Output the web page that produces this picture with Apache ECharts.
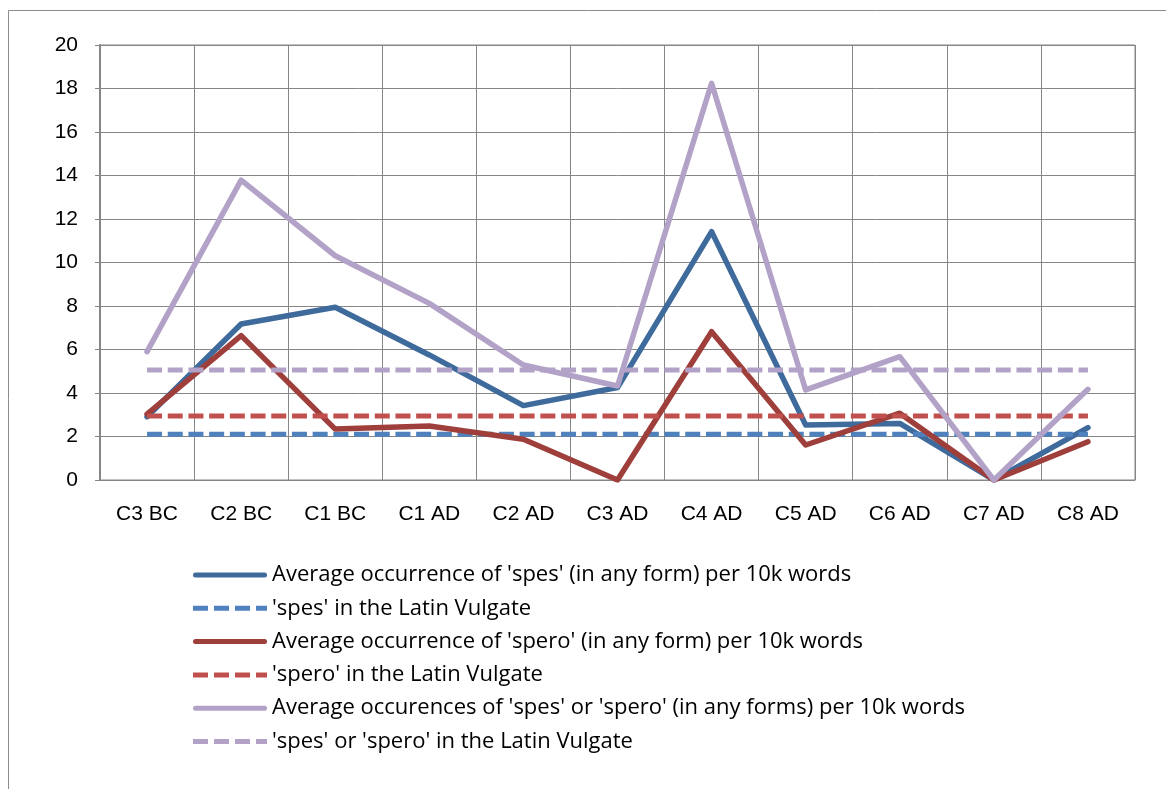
<!DOCTYPE html>
<html><head><meta charset="utf-8">
<script src="https://cdn.jsdelivr.net/npm/echarts@6/dist/echarts.min.js"></script>
<style>html,body{margin:0;padding:0;background:#fff}#c{width:1166px;height:789px}</style>
</head><body><div id="c"></div>
<script>
const categories = ['C3 BC','C2 BC','C1 BC','C1 AD','C2 AD','C3 AD','C4 AD','C5 AD','C6 AD','C7 AD','C8 AD'];
const spes = [2.91, 7.17, 7.94, 5.75, 3.42, 4.25, 11.42, 2.53, 2.6, 0, 2.41];
const spero = [3.03, 6.64, 2.34, 2.48, 1.87, 0, 6.82, 1.61, 3.07, 0, 1.76];
const both = [5.9, 13.79, 10.31, 8.12, 5.29, 4.32, 18.24, 4.14, 5.67, 0, 4.17];
const spesVulgate = 2.10;
const speroVulgate = 2.94;
const bothVulgate = 5.06;
const seriesNames = [
  "Average occurrence of 'spes' (in any form) per 10k words",
  "'spes' in the Latin Vulgate",
  "Average occurrence of 'spero' (in any form) per 10k words",
  "'spero' in the Latin Vulgate",
  "Average occurences of 'spes' or 'spero' (in any forms) per 10k words",
  "'spes' or 'spero' in the Latin Vulgate"
];
const yTicks = {min: 0, max: 20, interval: 2};

const AXFONT = "'Liberation Sans', Arial, sans-serif";
const LGFONT = "'Open Sans', 'Liberation Sans', sans-serif";
const dash = [15, 5.7];
const colors = ['#3E6A9C', '#4F81BD', '#9E3F3C', '#C0504D', '#B3A2C7', '#B3A2C7'];
// legend icons drawn in a 74x5 box
const solidIcon = 'path://M2.5,0 L71.5,0 A2.5,2.5 0 0 1 71.5,5 L2.5,5 A2.5,2.5 0 0 1 2.5,0 Z';
const dashIcon = 'path://M0,0h15v5h-15z M21,0h15v5h-15z M42,0h15v5h-15z M63,0h11v5h-11z';

function solid(name, data, color) {
  return {name, type: 'line', data, symbol: 'none', showSymbol: false,
    lineStyle: {color, width: 5.5, cap: 'round', join: 'round'}, itemStyle: {color}};
}
function dashed(name, v, color) {
  return {name, type: 'line', data: categories.map(() => v), symbol: 'none', showSymbol: false,
    lineStyle: {color, width: 5, type: dash}, itemStyle: {color}};
}
const chart = echarts.init(document.getElementById('c'), null, {renderer: 'canvas'});
chart.setOption({
  animation: false,
  backgroundColor: '#fff',
  graphic: [{type: 'polyline', shape: {points: [[8.5, 789], [8.5, 10.5], [1166, 10.5]]},
    style: {stroke: '#8c8c8c', lineWidth: 1, fill: null}, silent: true}],
  grid: {left: 100, top: 45, right: 31, bottom: 309, show: true, borderColor: '#868686', borderWidth: 1},
  xAxis: {type: 'category', data: categories, boundaryGap: true,
    axisLine: {lineStyle: {color: '#868686', width: 1}},
    axisTick: {show: false},
    axisLabel: {color: '#000', fontSize: 21, margin: 24, fontFamily: AXFONT},
    splitLine: {show: true, lineStyle: {color: '#868686', width: 1}}},
  yAxis: {type: 'value', min: yTicks.min, max: yTicks.max, interval: yTicks.interval,
    axisLine: {show: true, lineStyle: {color: '#868686', width: 2}},
    axisTick: {show: true, length: 5, inside: false, lineStyle: {color: '#868686'}},
    axisLabel: {color: '#000', fontSize: 21, margin: 22, fontFamily: AXFONT},
    splitLine: {show: true, lineStyle: {color: '#868686', width: 1}}},
  legend: {orient: 'vertical', left: 188, top: 559, itemWidth: 74, itemHeight: 5, itemGap: 11.3,
    itemTextGap: 5,
    data: seriesNames.map((n, i) => ({name: n, icon: i % 2 === 0 ? solidIcon : dashIcon,
      itemStyle: {color: colors[i]}})),
    textStyle: {color: '#000', fontSize: 22, lineHeight: 22, fontFamily: LGFONT}},
  series: [
    solid(seriesNames[0], spes, colors[0]),
    dashed(seriesNames[1], spesVulgate, colors[1]),
    solid(seriesNames[2], spero, colors[2]),
    dashed(seriesNames[3], speroVulgate, colors[3]),
    solid(seriesNames[4], both, colors[4]),
    dashed(seriesNames[5], bothVulgate, colors[5])
  ]
});
</script></body></html>
